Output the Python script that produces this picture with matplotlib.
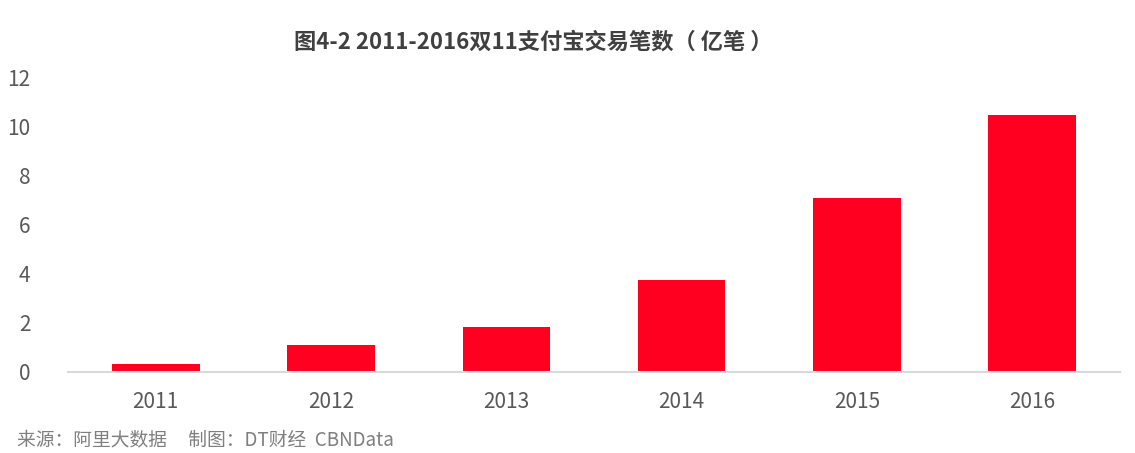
import numpy as np
import matplotlib.pyplot as plt

plt.rcParams['font.family'] = ['Noto Sans CJK SC', 'DejaVu Sans']

years = ['2011', '2012', '2013', '2014', '2015', '2016']
trades = [0.33, 1.08, 1.83, 3.75, 7.1, 10.47]   # 亿笔
yticks = [0, 2, 4, 6, 8, 10, 12]

fig = plt.figure(figsize=(11.35, 4.53), dpi=100)
ax = fig.add_axes([68/1135, 1-372/453, (1120-68)/1135, (372-77.5)/453])

x = np.arange(len(years))
ax.bar(x, trades, width=0.5, color='#FF0020', zorder=2)

ax.set_xlim(-0.5, len(years)-0.5)
ax.set_ylim(0, 12)
ax.set_yticks(yticks)
ax.set_yticklabels([str(v) for v in yticks])
ax.set_xticks(x)
ax.set_xticklabels(years)
ax.tick_params(axis='both', length=0, colors='#595959', labelsize=15)
ax.tick_params(axis='y', pad=27)
ax.tick_params(axis='x', pad=14)
for lbl in ax.get_xticklabels() + ax.get_yticklabels():
    lbl.set_fontweight('light')

for s in ['top', 'right', 'left']:
    ax.spines[s].set_visible(False)
ax.spines['bottom'].set_color('#D9D9D9')
ax.spines['bottom'].set_linewidth(1.5)

fig.text(533/1135, 1-42/453, '图4-2 2011-2016双11支付宝交易笔数（ 亿笔 ）', ha='center', va='center',
         fontsize=16, fontweight='bold', color='#404040')
fig.text(17/1135, 1-440/453, '来源：阿里大数据     制图：DT财经  CBNData', ha='left', va='center',
         fontsize=13.5, color='#7F7F7F', fontweight='light')

fig.savefig('out.png', dpi=100)
